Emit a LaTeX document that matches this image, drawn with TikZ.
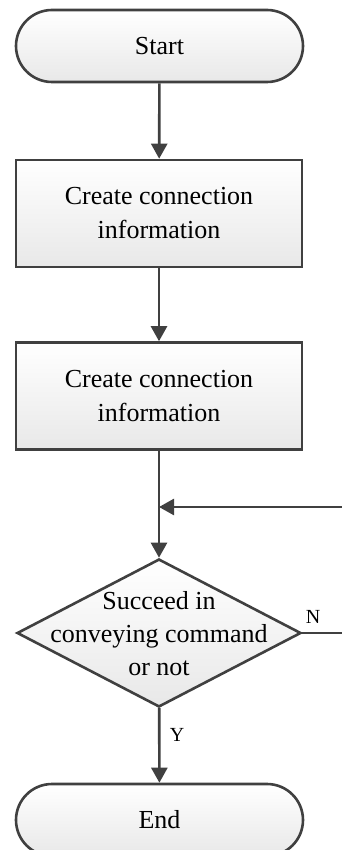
\documentclass[tikz,border=0pt]{standalone}
\usepackage{fontspec}
\setmainfont{Liberation Serif}
\usetikzlibrary{arrows.meta,shapes.geometric}
\definecolor{edgec}{HTML}{404040}
\begin{document}
\begin{tikzpicture}[x=1pt,y=-1pt,
  base/.style={draw=edgec,line width=2.6pt,top color=white,bottom color=black!9,inner sep=0pt,align=center,font=\fontsize{26}{34}\selectfont},
  procbox/.style={base,minimum width=286pt,minimum height=107pt},
  termbox/.style={base,rounded corners=36pt,minimum width=287pt,minimum height=72pt},
  decbox/.style={base,diamond,minimum width=284pt,minimum height=148pt},
  txt/.style={inner sep=0pt,align=center,font=\fontsize{26}{33}\selectfont},
  lab/.style={inner sep=0pt,font=\fontsize{20}{24}\selectfont},
  conn/.style={draw=edgec,line width=2.6pt},
  arr/.style={conn,-{Triangle[length=15pt,width=16pt]}}
]
\path[use as bounding box] (0,0) rectangle (342,850);
\clip (0,0) rectangle (342,850);
\node[termbox] (start) at (159.5,46) {Start};
\node[procbox] (box1) at (159,213.5) {Create connection\\information};
\node[procbox] (box2) at (159,396) {Create connection\\information};
\node[decbox] (dec) at (159,633) {};
\node[txt] (dect) at (159,634) {Succeed in\\conveying command\\or not};
\node[termbox] (end) at (159.5,820) {End};
\coordinate (j) at (159,507);
\coordinate (r1) at (352,633);
\coordinate (r2) at (352,507);
\draw[arr] (start) -- (box1);
\draw[arr] (box1) -- (box2);
\draw[arr] (box2) -- (dec);
\draw[conn] (dec.east) -- (r1) -- (r2);
\draw[arr] (r2) -- (j);
\draw[arr] (dec) -- (end);
\node[lab] (nl) at (313,617) {N};
\node[lab] (yl) at (177,735) {Y};
\end{tikzpicture}
\end{document}
